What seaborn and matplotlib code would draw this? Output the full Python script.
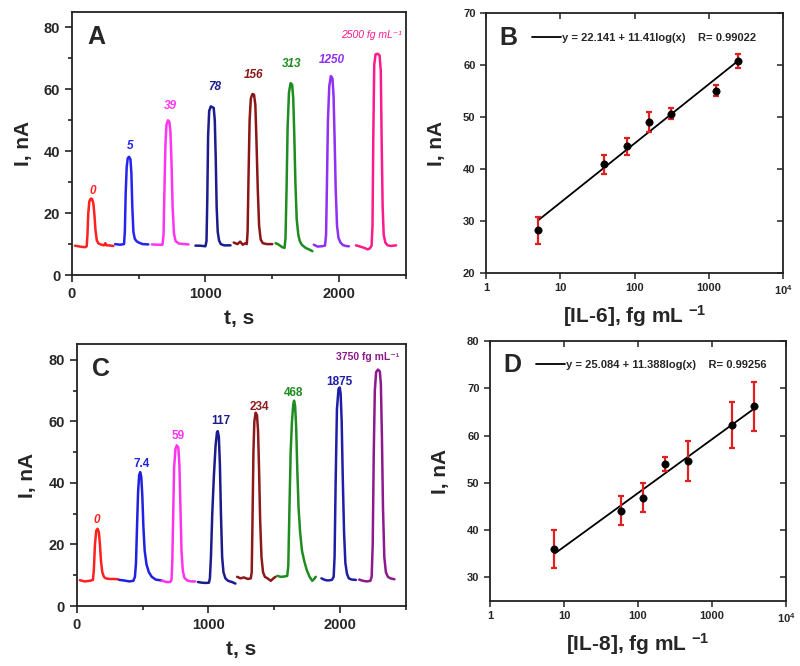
import matplotlib
matplotlib.use("Agg")
import matplotlib.pyplot as plt
import numpy as np
import pandas as pd
import seaborn as sns
from matplotlib.ticker import (MultipleLocator, FixedLocator, FixedFormatter,
                               NullLocator, NullFormatter)

# ------------------------------------------------------------
# Data
# ------------------------------------------------------------
# Panel A: amperometric responses, IL-6 steps (fg/mL)
A_labels = ["0", "5", "39", "78", "156", "313", "1250", "2500 fg mL⁻¹"]
A_colors = ["#ff2020", "#2424f0", "#ff33f0", "#1c1c8c", "#8c1616", "#1f8c1f", "#9030f0", "#ff1a8c"]
A_t = [
    [22, 60, 100, 110, 116, 122, 130, 140, 150, 160, 168, 176, 186, 198, 215, 240, 250, 258, 275, 310],
    [323, 360, 390, 396, 402, 410, 418, 428, 438, 445, 452, 460, 470, 482, 500, 530, 572],
    [599, 640, 678, 686, 692, 700, 708, 719, 730, 738, 746, 754, 764, 776, 800, 840, 873],
    [925, 960, 1000, 1008, 1014, 1020, 1028, 1040, 1050, 1062, 1070, 1077, 1084, 1092, 1102, 1115, 1140, 1188],
    [1212, 1240, 1260, 1280, 1300, 1310, 1316, 1323, 1331, 1340, 1352, 1364, 1374, 1382, 1392, 1402, 1414, 1430, 1460, 1501],
    [1526, 1550, 1575, 1593, 1600, 1608, 1616, 1626, 1638, 1650, 1658, 1666, 1674, 1684, 1696, 1707, 1722, 1750, 1780, 1802],
    [1812, 1840, 1870, 1896, 1904, 1910, 1918, 1928, 1940, 1952, 1960, 1968, 1976, 1986, 1997, 2012, 2030, 2050, 2075],
    [2128, 2160, 2190, 2215, 2232, 2245, 2252, 2258, 2265, 2275, 2290, 2305, 2314, 2320, 2328, 2336, 2348, 2365, 2390, 2429],
]
A_I = [
    [9.5, 9.2, 9.0, 9.3, 13, 20, 23.8, 24.7, 24.6, 23.2, 19.5, 14.5, 11.2, 10.2, 9.9, 9.6, 10.3, 9.6, 9.6, 9.4],
    [10.0, 9.8, 10.0, 14, 26, 35, 37.8, 38.2, 37.4, 33, 22, 14, 11.8, 11.0, 10.5, 10.0, 9.9],
    [9.9, 9.8, 9.8, 13, 26, 42, 48.5, 50, 49.5, 46, 36, 22, 13.5, 11, 10.2, 10, 9.9],
    [9.5, 9.5, 9.3, 11, 25, 45, 53, 54.5, 54.3, 54, 50, 38, 22, 14, 11.2, 10.0, 9.6, 9.6],
    [10.5, 10.0, 10.8, 9.8, 10.3, 10.0, 14, 32, 50, 57, 58.5, 58.3, 55, 44, 28, 16, 11.5, 10.3, 10.0, 10.0],
    [10.3, 9.8, 9.0, 8.8, 12, 28, 48, 59, 62, 61.5, 57, 45, 30, 18, 13, 11, 9.8, 8.8, 8.2, 7.7],
    [9.8, 9.2, 9.3, 9.5, 13, 28, 50, 61, 64.3, 63.5, 58, 44, 28, 16, 12, 10.5, 9.7, 9.4, 9.3],
    [9.6, 9.2, 8.8, 8.3, 8.6, 9.5, 16, 45, 68, 71.3, 71.5, 71, 66, 45, 22, 13, 10.5, 9.6, 9.4, 9.6],
]
A_lab_t = [156, 436, 737, 1070, 1363, 1644, 1947, 2241]
A_lab_I = [27.2, 41.7, 54.6, 60.7, 64.8, 68.3, 69.4, 77.6]

# Panel C: amperometric responses, IL-8 steps (fg/mL)
C_labels = ["0", "7.4", "59", "117", "234", "468", "1875", "3750 fg mL⁻¹"]
C_colors = ["#ff2020", "#2020e0", "#ff33ee", "#1c1c8c", "#8c1a1a", "#1f8c1f", "#1f1fa6", "#8c1a8c"]
C_t = [
    [23, 60, 100, 123, 130, 138, 148, 158, 168, 176, 184, 194, 206, 220, 250, 280, 315],
    [323, 360, 400, 430, 442, 450, 458, 466, 474, 482, 490, 498, 506, 516, 530, 548, 570, 600, 646],
    [646, 680, 710, 720, 726, 733, 740, 750, 760, 772, 780, 788, 796, 806, 818, 840, 870, 900],
    [921, 950, 980, 1005, 1012, 1020, 1030, 1042, 1055, 1066, 1072, 1080, 1088, 1096, 1105, 1115, 1130, 1150, 1180, 1206],
    [1219, 1245, 1270, 1300, 1323, 1330, 1336, 1343, 1350, 1360, 1370, 1378, 1386, 1394, 1404, 1416, 1430, 1450, 1475, 1495, 1511],
    [1524, 1550, 1580, 1600, 1608, 1616, 1626, 1636, 1646, 1652, 1660, 1668, 1676, 1686, 1698, 1712, 1730, 1750, 1770, 1790, 1805, 1817],
    [1860, 1885, 1910, 1940, 1953, 1960, 1968, 1978, 1990, 1999, 2006, 2014, 2022, 2032, 2042, 2054, 2068, 2090, 2122],
    [2147, 2175, 2205, 2232, 2242, 2250, 2258, 2266, 2276, 2290, 2304, 2312, 2320, 2328, 2338, 2350, 2365, 2385, 2415],
]
C_I = [
    [8.4, 8.0, 8.2, 8.5, 12, 20, 24.5, 25.1, 24, 20, 14.5, 11, 9.5, 9.0, 8.8, 8.8, 8.7],
    [8.5, 8.3, 8.0, 8.2, 9.5, 14, 26, 37, 42.5, 43.5, 42, 36, 26, 18, 13.5, 11, 9.5, 8.6, 8.3],
    [8.3, 7.8, 7.8, 8.5, 14, 30, 45, 51, 52.2, 51.5, 46, 32, 18, 11.5, 9.2, 8.3, 8.0, 8.0],
    [7.8, 7.6, 7.5, 7.6, 9, 16, 30, 42, 52, 56.5, 56.8, 55, 46, 30, 16, 11, 9, 8.2, 7.8, 7.3],
    [9.5, 9.0, 9.3, 8.8, 9.0, 11, 28, 50, 60, 62.8, 62, 57, 44, 28, 16, 11, 9.5, 9.0, 8.2, 9.0, 9.5],
    [9.8, 9.5, 9.6, 9.8, 13, 30, 50, 60, 65.5, 66.7, 65, 58, 45, 32, 24, 18, 14.5, 11.5, 9.5, 8.2, 8.8, 9.5],
    [9.0, 8.5, 8.3, 8.5, 9.5, 16, 40, 64, 70.5, 71, 69, 60, 42, 24, 14, 10.5, 9.0, 8.6, 8.5],
    [8.6, 8.2, 8.0, 8.2, 9.5, 20, 50, 70, 76, 76.8, 76.2, 72, 55, 32, 16, 11, 9.5, 9.0, 8.7],
]
C_lab_t = [150, 494, 768, 1092, 1389, 1651, 1995, 2210]
C_lab_I = [27.8, 46.0, 55.1, 60.0, 64.7, 69.2, 72.9, 81.0]

# Panel B: calibration IL-6
B_conc = [5, 39, 78, 156, 313, 1250, 2500]
B_I = [28.2, 40.9, 44.4, 49.1, 50.7, 55.1, 60.9]
B_err = [2.6, 1.9, 1.6, 1.9, 1.0, 1.1, 1.35]
B_fit = (22.141, 11.41, 0.99022)

# Panel D: calibration IL-8
D_conc = [7.4, 59, 117, 234, 468, 1875, 3750]
D_I = [36.0, 44.1, 46.9, 54.0, 54.7, 62.3, 66.2]
D_err = [4.0, 3.1, 3.1, 1.5, 4.2, 4.9, 5.2]
D_fit = (25.084, 11.388, 0.99256)

log_ticks = [1, 10, 100, 1000, 10000]
log_ticklabels = ["1", "10", "100", "1000", r"10$^{4}$"]

# ------------------------------------------------------------
# Style
# ------------------------------------------------------------
sns.set_theme(style="ticks")
plt.rcParams["font.family"] = ["Liberation Sans", "DejaVu Sans"]
plt.rcParams["font.weight"] = "bold"
plt.rcParams["axes.labelweight"] = "bold"
plt.rcParams["mathtext.fontset"] = "custom"
plt.rcParams["mathtext.rm"] = "Liberation Sans:bold"
plt.rcParams["mathtext.bf"] = "Liberation Sans:bold"
plt.rcParams["mathtext.default"] = "bf"

fig = plt.figure(figsize=(8, 6.66), dpi=100)
fig.patch.set_facecolor("white")


def style_frame(ax):
    for s in ax.spines.values():
        s.set_color("#222222")
        s.set_linewidth(1.3)
        s.set_visible(True)
    ax.set_facecolor("white")


def trace_panel(rect, t_list, i_list, colors, labels, lab_t, lab_I, letter, italic_labels):
    ax = fig.add_axes(rect)
    rows = []
    for k, (tt, ii) in enumerate(zip(t_list, i_list)):
        for t, i in zip(tt, ii):
            rows.append({"t": t, "I": i, "step": k})
    df = pd.DataFrame(rows)
    sns.lineplot(data=df, x="t", y="I", hue="step", palette=colors, sort=False,
                 estimator=None, legend=False, lw=1.8, ax=ax)
    for k, lab in enumerate(labels):
        last = k == len(labels) - 1
        style = "italic" if (italic_labels or k == 0) else "normal"
        ax.text(lab_t[k], lab_I[k], lab, color=colors[k], ha="center", va="center",
                fontsize=7.5 if last else 8.5, fontstyle=style,
                fontweight="normal" if (last and italic_labels) else "bold")
    ax.set_xlim(0, 2500)
    ax.set_ylim(0, 85)
    ax.xaxis.set_major_locator(MultipleLocator(1000))
    ax.xaxis.set_minor_locator(MultipleLocator(500))
    ax.yaxis.set_major_locator(MultipleLocator(20))
    ax.yaxis.set_minor_locator(MultipleLocator(10))
    ax.tick_params(which="both", direction="out", top=False, right=False,
                   labelsize=10.5, width=1.2, color="#222222")
    ax.tick_params(which="major", length=5)
    ax.tick_params(which="minor", length=3)
    ax.set_xlabel("t, s", fontsize=15, labelpad=6)
    ax.set_ylabel("I, nA", fontsize=15, labelpad=8)
    ax.text(0.045, 0.905, letter, transform=ax.transAxes, fontsize=18,
            fontweight="bold", ha="left", va="center")
    style_frame(ax)
    return ax


def calib_panel(rect, conc, vals, errs, fit, ylim, letter, xlabel, leg_y):
    ax = fig.add_axes(rect)
    a, b, r = fit
    xfit = [min(conc), max(conc)]
    yfit = [a + b * np.log10(x) for x in xfit]
    sns.lineplot(x=xfit, y=yfit, color="black", lw=1.3, ax=ax,
                 label=f"y = {a} + {b}log(x)    R= {r}")
    ax.errorbar(conc, vals, yerr=errs, fmt="none", ecolor="#e02020",
                elinewidth=1.6, capsize=2.5, capthick=1.6, zorder=3)
    sns.scatterplot(x=conc, y=vals, color="black", s=28, edgecolor="black",
                    zorder=4, ax=ax)
    ax.set_xscale("log")
    ax.set_xlim(1, 1e4)
    ax.set_ylim(*ylim)
    ax.xaxis.set_major_locator(FixedLocator(log_ticks))
    ax.xaxis.set_major_formatter(FixedFormatter(log_ticklabels))
    ax.xaxis.set_minor_locator(NullLocator())
    ax.yaxis.set_major_locator(MultipleLocator(10))
    ax.tick_params(which="major", direction="out", length=4, width=1.1,
                   labelsize=8, color="#222222", top=False, right=False)

    # inward ticks on top and right
    top = ax.secondary_xaxis("top")
    top.xaxis.set_major_locator(FixedLocator(log_ticks))
    top.xaxis.set_minor_locator(NullLocator())
    top.xaxis.set_major_formatter(NullFormatter())
    top.tick_params(direction="in", length=4, width=1.1, color="#222222")
    right = ax.secondary_yaxis("right")
    right.yaxis.set_major_locator(MultipleLocator(10))
    right.yaxis.set_major_formatter(NullFormatter())
    right.tick_params(direction="in", length=4, width=1.1, color="#222222")
    for sec in (top, right):
        for s in sec.spines.values():
            s.set_visible(False)

    ax.set_xlabel(xlabel, fontsize=15, labelpad=4)
    ax.set_ylabel("I, nA", fontsize=15, labelpad=12)
    ax.text(0.045, leg_y, letter, transform=ax.transAxes, fontsize=18,
            fontweight="bold", ha="left", va="center")
    ax.legend(loc="center left", bbox_to_anchor=(0.155, leg_y), frameon=False,
              handlelength=2.6, handletextpad=0.1, borderpad=0, borderaxespad=0,
              prop={"size": 8, "weight": "bold"})
    style_frame(ax)
    return ax


axA = trace_panel([0.09, 0.587, 0.417, 0.395], A_t, A_I, A_colors, A_labels,
                  A_lab_t, A_lab_I, "A", True)
axC = trace_panel([0.096, 0.090, 0.411, 0.393], C_t, C_I, C_colors, C_labels,
                  C_lab_t, C_lab_I, "C", False)
axB = calib_panel([0.6075, 0.590, 0.3715, 0.390], B_conc, B_I, B_err, B_fit,
                  (20, 70), "B", r"[IL-6], fg mL $^{-1}$", 0.905)
axD = calib_panel([0.6125, 0.0976, 0.370, 0.390], D_conc, D_I, D_err, D_fit,
                  (25, 80), "D", r"[IL-8], fg mL $^{-1}$", 0.91)

fig.savefig("out.png", dpi=100, facecolor="white")
